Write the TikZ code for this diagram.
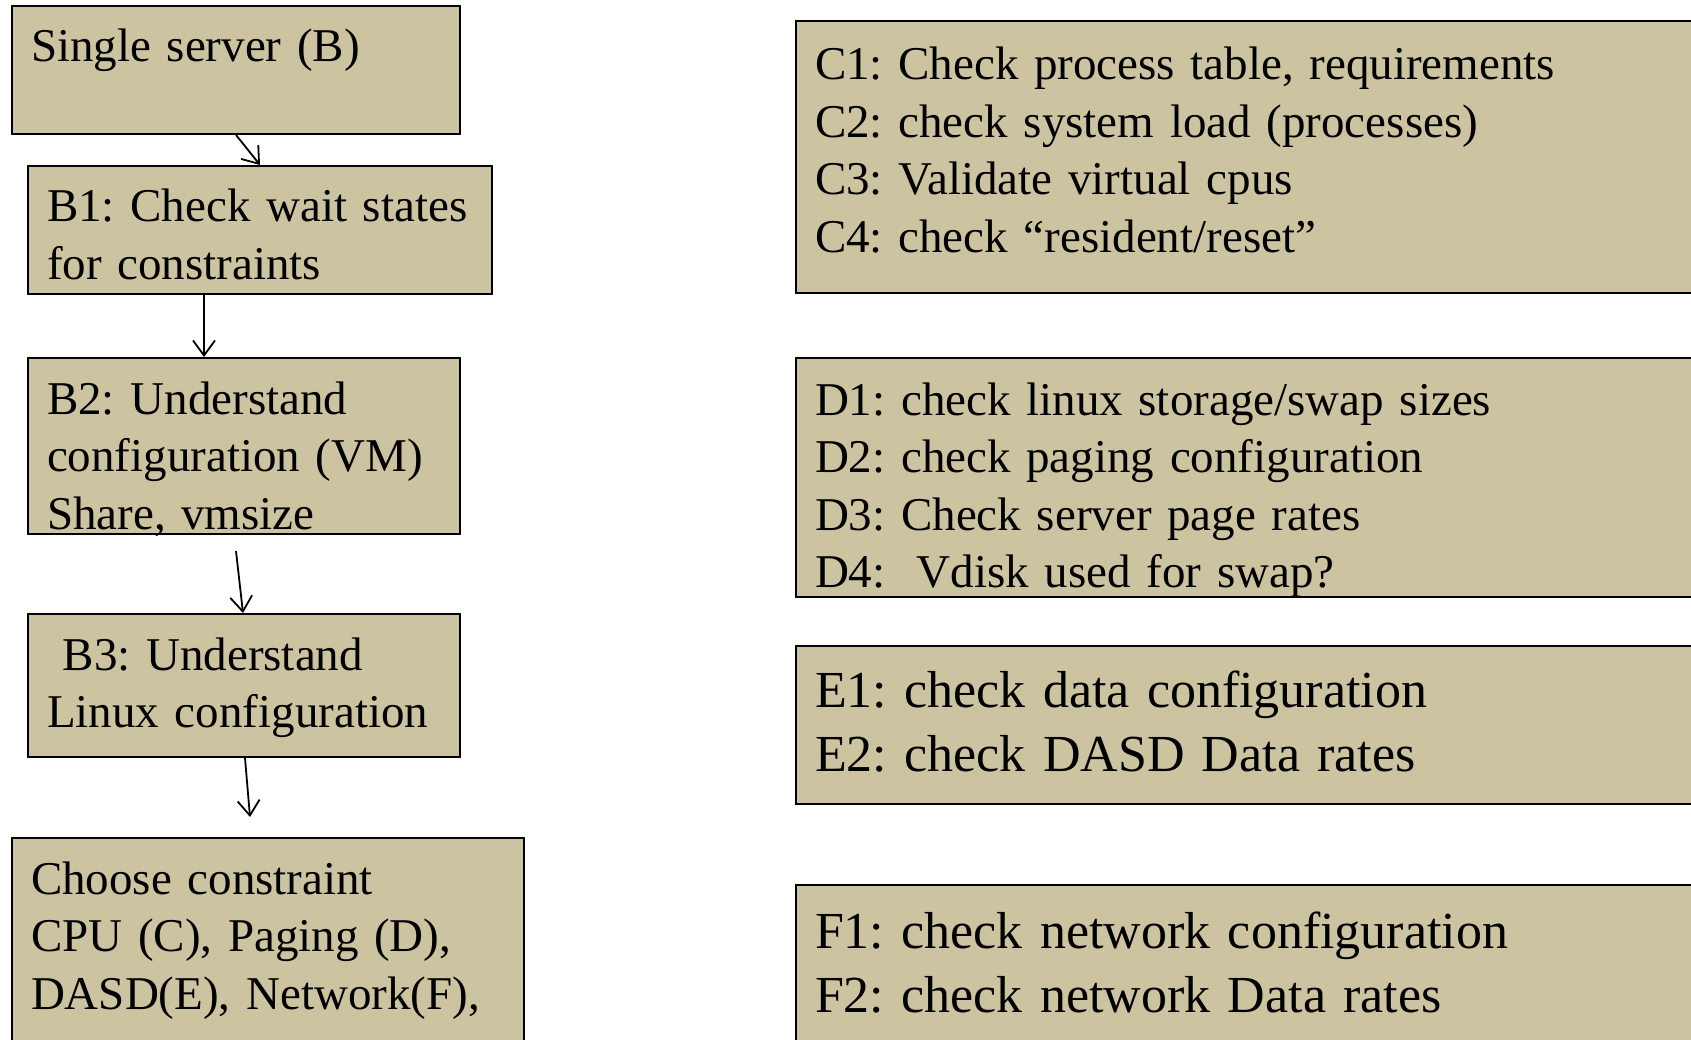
\documentclass[tikz,border=0pt]{standalone}
\usepackage{fontspec}
\setmainfont{Liberation Serif}
\usepackage{tikz}
\usetikzlibrary{arrows.meta}
\definecolor{boxtan}{RGB}{204,195,161}
\frenchspacing
\tikzset{
    stepbox/.style={draw=black, line width=2pt, fill=boxtan, anchor=north west,
        inner xsep=19pt, inner ysep=0pt, align=left,
        font=\fontsize{47pt}{57.5pt}\selectfont},
    bigbox/.style={stepbox, font=\fontsize{52pt}{64pt}\selectfont},
    arr/.style={line width=1.8pt, -{Straight Barb[length=15pt,width=22pt]}}
}
\begin{document}
\begin{tikzpicture}[x=1pt,y=-1pt]
    \useasboundingbox (0,0) rectangle (1691,1040);
    % left column: the steps for one server
    \node [stepbox, text width=410pt, text height=56pt, text depth=72pt] (single) at (11,5)
        {Single server (B)};
    \node [stepbox, text width=426pt, text height=56pt, text depth=72pt] (b1) at (27,165)
        {B1: Check wait states\\for constraints};
    \node [stepbox, text width=394pt, text height=56pt, text depth=120pt] (b2) at (27,357)
        {B2: Understand\\configuration (VM)\\Share, vmsize};
    \node [stepbox, text width=394pt, text height=56pt, text depth=87pt] (b3) at (27,613)
        {\ B3: Understand\\Linux configuration};
    \node [stepbox, text width=474pt, text height=56pt, text depth=170pt] (choose) at (11,837)
        {Choose constraint\\CPU (C), Paging (D),\\DASD(E), Network(F),};
    \draw [arr] (single.south) -- (b1.north);
    \draw [arr] ([xshift=-56pt]b1.south) -- ([xshift=-40pt]b2.north);
    \draw [arr] ([xshift=-8pt,yshift=-16pt]b2.south) -- ([xshift=-1pt]b3.north);
    \draw [arr] ([xshift=1pt]b3.south) -- ([xshift=-18pt,yshift=20pt]choose.north);
    % right column: checks for each constraint
    \node [stepbox, text width=867pt, text height=59pt, text depth=213pt] (cpu) at (795,20)
        {C1: Check process table, requirements\\C2: check system load (processes)\\
         C3: Validate virtual cpus\\C4: check ``resident/reset''};
    \node [stepbox, text width=867pt, text height=57pt, text depth=182pt] (paging) at (795,357)
        {D1: check linux storage/swap sizes\\D2: check paging configuration\\
         D3: Check server page rates\\D4: \ Vdisk used for swap?};
    \node [bigbox, text width=867pt, text height=61pt, text depth=97pt] (dasd) at (795,645)
        {E1: check data configuration\\E2: check DASD Data rates};
    \node [bigbox, text width=867pt, text height=63pt, text depth=130pt] (network) at (795,884)
        {F1: check network configuration\\F2: check network Data rates};
\end{tikzpicture}
\end{document}
